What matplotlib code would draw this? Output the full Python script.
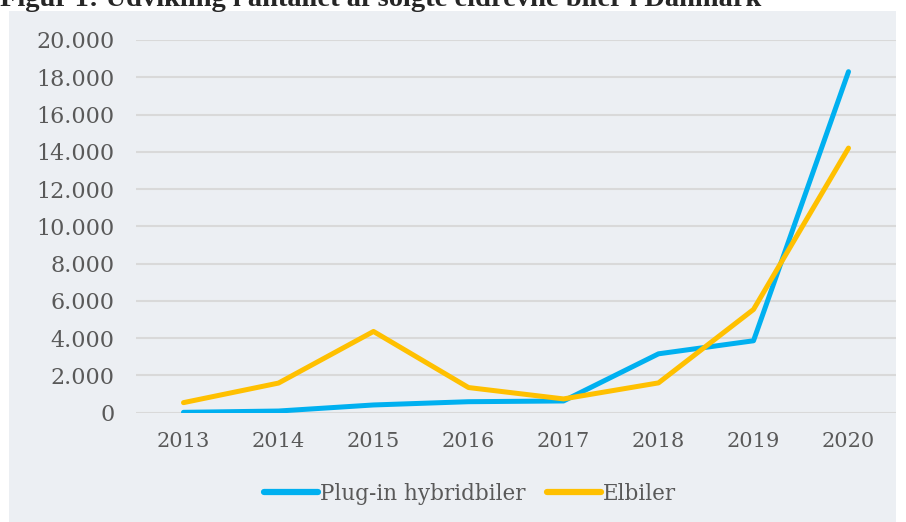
import matplotlib.pyplot as plt
from matplotlib.patches import Rectangle
from matplotlib.ticker import FuncFormatter

# antal solgte eldrevne biler i Danmark
years = ['2013', '2014', '2015', '2016', '2017', '2018', '2019', '2020']
plugin = [20, 90, 415, 590, 630, 3160, 3860, 18300]
elbiler = [540, 1590, 4360, 1350, 740, 1600, 5540, 14200]

bg = '#eceff3'
blue = '#00b0f0'
yellow = '#ffc000'
txt = '#595959'

plt.rcParams['font.family'] = ['DejaVu Serif']

fig = plt.figure(figsize=(9.06, 5.22), dpi=100)
fig.patch.set_facecolor('white')
fig.patches.append(Rectangle((9 / 906, 0), 887 / 906, 511 / 522,
                             transform=fig.transFigure, facecolor=bg,
                             edgecolor='none', zorder=-1))

# titlen er skaaret af i toppen, som i originalen
fig.text(0.0, 1 - 6 / 522, 'Figur 1: Udvikling i antallet af solgte eldrevne biler i Danmark',
         fontsize=20.5, fontweight='bold', family='Liberation Serif',
         color='#262626', ha='left', va='baseline')

ax = fig.add_axes([136 / 906, 1 - 412.7 / 522, 760 / 906, 372.7 / 522])
ax.set_facecolor(bg)

x = range(len(years))
ax.plot(x, plugin, color=blue, lw=3.6, solid_capstyle='round',
        solid_joinstyle='round', label='Plug-in hybridbiler', zorder=3)
ax.plot(x, elbiler, color=yellow, lw=3.6, solid_capstyle='round',
        solid_joinstyle='round', label='Elbiler', zorder=3)

ax.set_xlim(-0.5, len(years) - 0.5)
ax.set_ylim(0, 20000)
ax.set_yticks(range(0, 20001, 2000))
ax.yaxis.set_major_formatter(FuncFormatter(lambda v, p: f'{int(v):,}'.replace(',', '.')))
ax.set_xticks(list(x))
ax.set_xticklabels(years)
ax.grid(axis='y', color='#d9d9d9', lw=1.5)
ax.set_axisbelow(True)
for s in ax.spines.values():
    s.set_visible(False)
ax.tick_params(axis='y', length=0, labelsize=16, labelcolor=txt, pad=15.5)
ax.tick_params(axis='x', length=0, labelsize=15, labelcolor=txt, pad=14)

leg = fig.legend(loc='center', bbox_to_anchor=(470 / 906, 1 - 494 / 522), ncol=2,
                 frameon=False, fontsize=15.5, handlelength=2.5, handletextpad=0.1,
                 columnspacing=1.0, labelcolor=txt)
for h in leg.legend_handles:
    h.set_linewidth(4.5)

fig.savefig('out.png', dpi=100, facecolor='white')
